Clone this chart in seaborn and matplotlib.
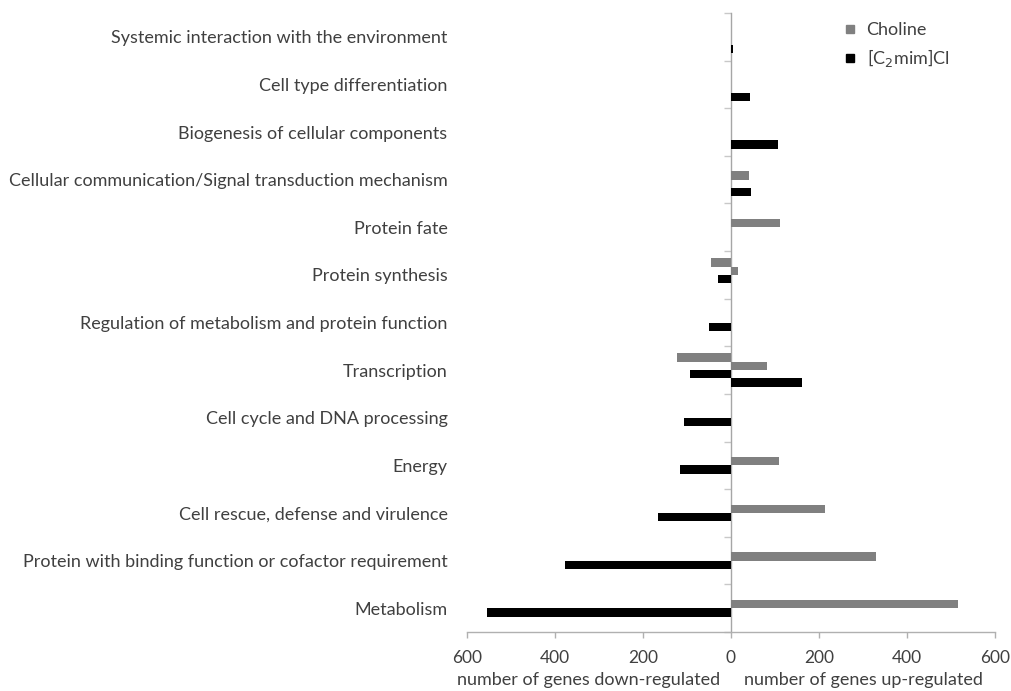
import matplotlib
matplotlib.use("Agg")
import matplotlib.pyplot as plt
import seaborn as sns
import pandas as pd
import numpy as np
from matplotlib.lines import Line2D

categories = [
    "Systemic interaction with the environment",
    "Cell type differentiation",
    "Biogenesis of cellular components",
    "Cellular communication/Signal transduction mechanism",
    "Protein fate",
    "Protein synthesis",
    "Regulation of metabolism and protein function",
    "Transcription",
    "Cell cycle and DNA processing",
    "Energy",
    "Cell rescue, defense and virulence",
    "Protein with binding function or cofactor requirement",
    "Metabolism",
]
choline_down = [0, 0, 0, 0, 0, 45, 0, 123, 0, 0, 0, 0, 0]
choline_up = [0, 0, 0, 40, 111, 17, 0, 82, 0, 110, 213, 330, 516]
c2mim_down = [0, 0, 0, 0, 0, 29, 50, 94, 107, 115, 165, 378, 555]
c2mim_up = [5, 44, 106, 46, 0, 0, 0, 161, 0, 0, 0, 0, 0]

series_names = ["Choline down", "Choline up", "C2mim down", "C2mim up"]
xtick_values = [-600, -400, -200, 0, 200, 400, 600]
xtick_labels = ["600", "400", "200", "0", "200", "400", "600"]
legend_labels = ["Choline", "[C$_2$mim]Cl"]

GRAY = "#808080"
BLACK = "#000000"
TXT = "#404040"

rows = []
for i, cat in enumerate(categories):
    rows.append((cat, series_names[0], -choline_down[i]))
    rows.append((cat, series_names[1], choline_up[i]))
    rows.append((cat, series_names[2], -c2mim_down[i]))
    rows.append((cat, series_names[3], c2mim_up[i]))
df = pd.DataFrame(rows, columns=["category", "series", "value"])

sns.set_theme(style="white")
plt.rcParams["font.family"] = ["Lato", "DejaVu Sans"]

fig = plt.figure(figsize=(10.12, 6.91), dpi=100)
ax = fig.add_axes([467 / 1012, 1 - 632 / 691, (995 - 467) / 1012, (632 - 13) / 691])

sns.barplot(data=df, y="category", x="value", hue="series", order=categories,
            hue_order=series_names, palette=[GRAY, GRAY, BLACK, BLACK],
            orient="h", dodge=True, width=0.7, linewidth=0, legend=False, ax=ax,
            errorbar=None)

ax.set_xlim(-600, 600)
ax.set_ylim(len(categories) - 0.5, -0.5)
ax.set_xticks(xtick_values)
ax.set_xticklabels(xtick_labels, fontsize=12.5, color=TXT)
ax.tick_params(axis="x", direction="out", length=4, width=1, color="#b0b0b0", pad=9, bottom=True)
ax.tick_params(axis="y", length=0, pad=14, labelsize=13, labelcolor=TXT)
ax.set_xlabel("")
ax.set_ylabel("")
for s in ["top", "right", "left"]:
    ax.spines[s].set_visible(False)
ax.spines["bottom"].set_color("#b0b0b0")
ax.spines["bottom"].set_linewidth(1)

# central axis with category boundary ticks
sec = ax.secondary_yaxis(0.5)
sec.set_yticks(np.arange(-0.5, len(categories), 1.0))
sec.set_yticklabels([])
sec.tick_params(axis="y", direction="in", length=5, width=1, color="#c8c8c8")
for sp in sec.spines.values():
    sp.set_color("#a6a6a6")
    sp.set_linewidth(1)

ax.text(0.231, -0.078, "number of genes down-regulated", transform=ax.transAxes,
        ha="center", va="center", fontsize=13, color=TXT)
ax.text(0.75, -0.078, "number of genes up-regulated", transform=ax.transAxes,
        ha="center", va="center", fontsize=13, color=TXT)

handles = [Line2D([], [], marker="s", linestyle="", color=GRAY, markersize=6),
           Line2D([], [], marker="s", linestyle="", color=BLACK, markersize=6)]
leg = ax.legend(handles, legend_labels, loc="upper left", bbox_to_anchor=(0.678, 1.012),
                frameon=False, fontsize=13, handletextpad=0.4, labelspacing=0.5,
                handlelength=1.0)
for t in leg.get_texts():
    t.set_color(TXT)

fig.savefig("out.png", dpi=100)
